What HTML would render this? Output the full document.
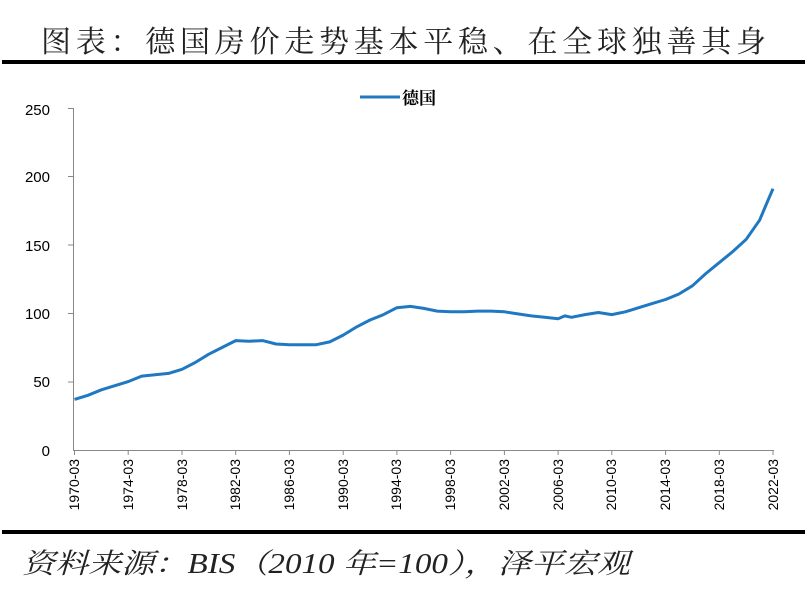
<!DOCTYPE html>
<html><head><meta charset="utf-8"><style>
body{margin:0;background:#fff;width:806px;height:591px;overflow:hidden}
</style></head><body>
<svg width="806" height="591" xmlns="http://www.w3.org/2000/svg">
<text x="41" y="52" textLength="725" lengthAdjust="spacing" font-family="'Liberation Serif','Noto Serif CJK SC',serif" font-size="30" fill="#222">图表：德国房价走势基本平稳、在全球独善其身</text>
<rect x="2" y="60" width="803" height="4" fill="#000"/>
<line x1="360" y1="97" x2="400" y2="97" stroke="#1f78c1" stroke-width="3"/>
<text x="402" y="104" font-family="'Liberation Serif','Noto Serif CJK SC',serif" font-size="17" font-weight="bold" fill="#000">德国</text>
<g font-family="'Liberation Sans',sans-serif" font-size="15" fill="#000" text-anchor="end">
<text x="50" y="115">250</text><text x="50" y="182">200</text><text x="50" y="251">150</text><text x="50" y="319">100</text><text x="50" y="387">50</text><text x="50" y="456">0</text>
</g>
<g stroke="#888" stroke-width="1" fill="none">
<path d="M73.5 108V450.5H774"/>
<path d="M68 108.5H73.5M68 176.5H73.5M68 245H73.5M68 313.5H73.5M68 382H73.5"/>
<path d="M74.5 450V455M128.2 450V455M182 450V455M235.7 450V455M289.4 450V455M343.2 450V455M396.9 450V455M450.6 450V455M504.4 450V455M558.1 450V455M611.8 450V455M665.6 450V455M719.3 450V455M773 450V455"/>
</g>
<g font-family="'Liberation Sans',sans-serif" font-size="14" fill="#000" text-anchor="end">
<text transform="translate(79,459) rotate(-90)">1970-03</text>
<text transform="translate(133,459) rotate(-90)">1974-03</text>
<text transform="translate(187,459) rotate(-90)">1978-03</text>
<text transform="translate(240,459) rotate(-90)">1982-03</text>
<text transform="translate(294,459) rotate(-90)">1986-03</text>
<text transform="translate(348,459) rotate(-90)">1990-03</text>
<text transform="translate(401,459) rotate(-90)">1994-03</text>
<text transform="translate(455,459) rotate(-90)">1998-03</text>
<text transform="translate(509,459) rotate(-90)">2002-03</text>
<text transform="translate(563,459) rotate(-90)">2006-03</text>
<text transform="translate(616,459) rotate(-90)">2010-03</text>
<text transform="translate(670,459) rotate(-90)">2014-03</text>
<text transform="translate(724,459) rotate(-90)">2018-03</text>
<text transform="translate(778,459) rotate(-90)">2022-03</text>
</g>
<polyline fill="none" stroke="#1f78c1" stroke-width="3" stroke-linejoin="round" points="74.5,399.4 87.9,395.3 101.4,389.8 114.8,385.7 128.2,381.6 141.7,376.1 155.1,374.8 168.5,373.4 182,369.3 195.4,362.4 208.8,354.2 222.3,347.4 235.7,340.6 249.1,341.2 262.6,340.6 276,344 289.4,344.7 302.9,344.7 316.3,344.7 329.7,341.9 343.2,335.1 356.6,326.9 370,320 383.5,314.6 396.9,307.7 410.3,306.4 423.8,308.4 437.2,311.1 450.6,311.8 464.1,311.8 477.5,311.1 490.9,311.1 504.4,311.8 517.8,313.9 531.2,315.9 544.7,317.3 558.1,318.7 564.8,315.9 571.5,317.3 585,314.6 598.4,312.5 611.8,314.6 625.3,311.8 638.7,307.7 652.1,303.6 665.6,299.5 679,294 692.4,285.8 705.9,273.5 719.3,262.6 732.7,251.6 746.2,239.3 759.6,220.2 766,205 773,188.7"/>
<rect x="2" y="530" width="803" height="4" fill="#000"/>
<text x="22" y="573" textLength="608" lengthAdjust="spacingAndGlyphs" font-family="'Liberation Serif','Noto Serif CJK SC',serif" font-size="28" font-style="italic" fill="#222">资料来源：BIS（2010 年=100），泽平宏观</text>
</svg>
</body></html>
